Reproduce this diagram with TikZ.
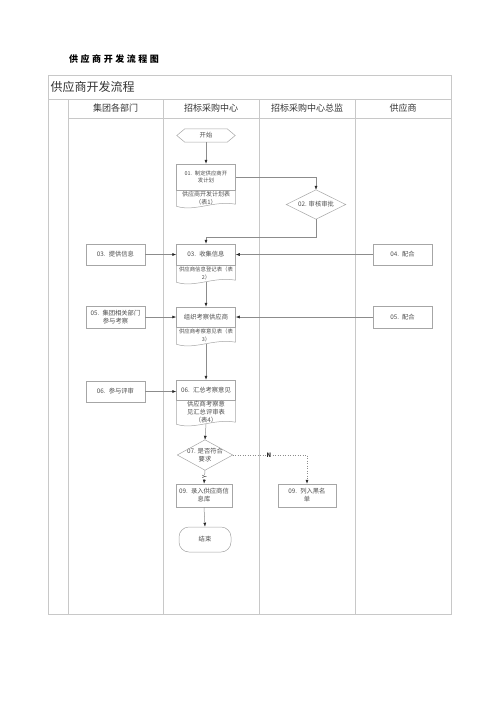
\documentclass[tikz,border=0pt]{standalone}
\usepackage{fontspec}
\setmainfont{Noto Sans CJK SC}
\newfontfamily\headfont[LetterSpace=28]{Noto Sans CJK SC}
\usetikzlibrary{arrows.meta,calc}
\definecolor{tline}{HTML}{C8C8C8}
\definecolor{nline}{HTML}{A6A6A6}
\definecolor{cline}{HTML}{8C8C8C}
\definecolor{ntext}{HTML}{4D4D4D}
\newcommand\myfa{\fontsize{6.3}{8}\selectfont}
\newcommand\myfb{\fontsize{5.4}{7.2}\selectfont}
\begin{document}
\begin{tikzpicture}[x=1pt,y=-1pt,
  tbl/.style={draw=tline,line width=0.6pt},
  nbord/.style={draw=nline,line width=0.5pt},
  procbox/.style={draw=nline,line width=0.5pt,fill=white,minimum width=59,text width=54,align=center,inner sep=1pt,font=\myfa,text=ntext},
  docpart/.style={minimum width=59,text width=57,align=center,inner sep=0pt,font=\myfb,text=ntext},
  plain/.style={inner sep=0pt,align=center,font=\myfa,text=ntext},
  arr/.style={draw=cline,line width=0.5pt,-{Latex[length=4pt,width=3pt,color=black!85]}},
  hdr/.style={inner sep=0pt,font=\fontsize{9}{10}\selectfont,text=black!80}
]
\useasboundingbox (0,0) rectangle (500,707);
% heading
\node[anchor=west,inner sep=0pt,font=\headfont\bfseries\fontsize{9}{10}\selectfont] (hd) at (69,59) {供应商开发流程图};
% table
\draw[tbl] (48,75) rectangle (451,614);
\draw[tbl] (48,99) -- (451,99);
\draw[tbl] (68,118) -- (451,118);
\draw[tbl] (68,99) -- (68,614);
\draw[tbl] (163,99) -- (163,614);
\draw[tbl] (259,99) -- (259,614);
\draw[tbl] (355,99) -- (355,614);
\node[anchor=west,inner sep=0pt,font=\fontsize{12}{13}\selectfont,text=black!80] (ttl) at (50.5,87) {供应商开发流程};
\node[hdr] (h1) at (115.5,108.5) {集团各部门};
\node[hdr] (h2) at (211,108.5) {招标采购中心};
\node[hdr] (h3) at (307,108.5) {招标采购中心总监};
\node[hdr] (h4) at (403,108.5) {供应商};

% start
\node[plain,minimum width=58,minimum height=13] (s) at (206,135.5) {开始};
\draw[nbord] (s.west) -- ($(s.north west)+(8,0)$) -- ($(s.north east)+(-8,0)$) -- (s.east) -- ($(s.south east)+(-8,0)$) -- ($(s.south west)+(8,0)$) -- cycle;

% 01
\node[procbox,font=\myfb,minimum height=26] (b1) at (206,177) {01. 制定供应商开\\发计划};
\node[docpart,font=\fontsize{6}{7.5}\selectfont,minimum height=16] (d1) at (206,198) {供应商开发计划表\\（表1）};
\draw[nbord] (d1.north west) -- (d1.south west) .. controls ($(d1.south west)+(18,6)$) and ($(d1.south east)+(-22,-6)$) .. ($(d1.south east)+(0,-2)$) -- (d1.north east);

% 02
\node[plain,minimum width=59,minimum height=29] (c2) at (316,204.5) {02. 审核审批};
\draw[nbord] (c2.north) -- (c2.east) -- (c2.south) -- (c2.west) -- cycle;

% 03
\node[procbox,minimum height=21] (b3) at (206,254.5) {03. 收集信息};
\node[docpart,minimum height=17] (d3) at (206,273.5) {供应商信息登记表（表\\2）};
\draw[nbord] (d3.north west) -- (d3.south west) .. controls ($(d3.south west)+(18,6)$) and ($(d3.south east)+(-22,-6)$) .. ($(d3.south east)+(0,-2)$) -- (d3.north east);
\node[procbox,minimum height=21] (l3) at (115.5,254.5) {03. 提供信息};
\node[procbox,minimum height=21] (r4) at (402.5,254.5) {04. 配合};

% 04
\node[procbox,minimum height=20] (b4) at (206,317) {组织考察供应商};
\node[docpart,minimum height=17] (d4) at (206,335.5) {供应商考察意见表（表\\3）};
\draw[nbord] (d4.north west) -- (d4.south west) .. controls ($(d4.south west)+(18,6)$) and ($(d4.south east)+(-22,-6)$) .. ($(d4.south east)+(0,-2)$) -- (d4.north east);
\node[procbox,minimum height=22] (l5) at (115.5,317) {05. 集团相关部门\\参与考察};
\node[procbox,minimum height=22] (r5) at (402.5,317) {05. 配合};

% 06
\node[procbox,minimum height=20] (b6) at (206,390) {06. 汇总考察意见};
\node[docpart,font=\myfa,minimum height=24] (d6) at (206,412) {供应商考察意\\见汇总评审表\\（表4）};
\draw[nbord] (d6.north west) -- (d6.south west) .. controls ($(d6.south west)+(18,6)$) and ($(d6.south east)+(-22,-6)$) .. ($(d6.south east)+(0,-2)$) -- (d6.north east);
\node[procbox,minimum height=21] (l6) at (115.5,391.5) {06. 参与评审};

% 07
\node[plain,minimum width=55,minimum height=30] (c7) at (205,455) {07. 是否符合\\要求};
\draw[nbord] (c7.north) -- (c7.east) -- (c7.south) -- (c7.west) -- cycle;

% 09
\node[procbox,minimum width=56,text width=52,minimum height=23] (b8) at (204,495.5) {09. 录入供应商信\\息库};
\node[procbox,minimum width=58,text width=52,minimum height=23] (b9) at (307,495.5) {09. 列入黑名\\单};

% end
\node[procbox,minimum width=52,text width=46,minimum height=25,rounded corners=10pt] (e) at (205,539.5) {结束};

% connectors
\draw[arr] (s.south) -- (b1.north);
\draw[arr] (b1.east) -| (c2.north);
\coordinate (k1) at (316,237);
\draw[arr] (c2.south) -- (k1) -| (b3.north);
\draw[arr] (l3.east) -- (b3.west);
\draw[arr] (r4.west) -- (b3.east);
\draw[arr] (d3.south) -- (b4.north);
\draw[arr] (l5.east) -- (b4.west);
\draw[arr] (r5.west) -- (b4.east);
\draw[arr] (d4.south) -- (b6.north);
\draw[arr] (l6.east) -- (l6.east -| b6.west);
\draw[arr] (d6.south) -- (c7.north);
\draw[arr,dotted] (c7.east) -| (b9.north);
\node[inner sep=0.6pt,fill=white,font=\bfseries\fontsize{6}{7}\selectfont,text=black!85] (nl) at (269,455) {N};
\draw[arr] (c7.south) -- (b8.north);
\node[inner sep=0.6pt,fill=white,rotate=90,font=\fontsize{6}{7}\selectfont,text=black!85] (yl) at (204.5,477) {Y};
\draw[arr] (b8.south) -- (e.north);
\end{tikzpicture}
\end{document}
